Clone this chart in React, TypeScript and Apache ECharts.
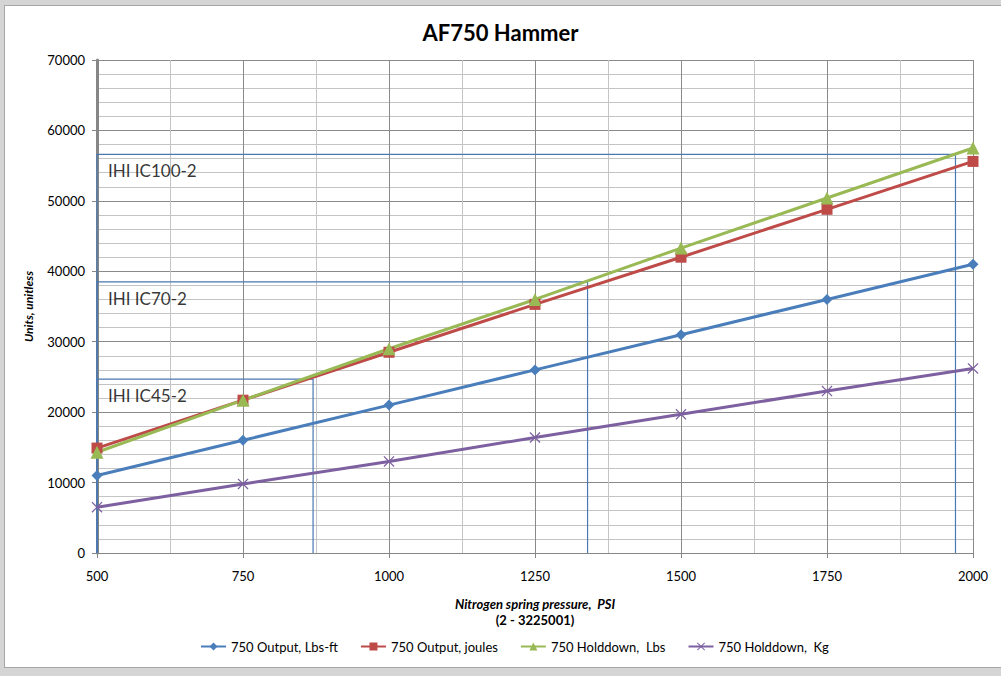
import React, { useEffect, useRef } from "react";
import * as echarts from "echarts";

const pressure = [500, 750, 1000, 1250, 1500, 1750, 2000];
const outputLbsFt = [11000, 16000, 21000, 26000, 31000, 36000, 41000];
const outputJoules = [14900, 21700, 28500, 35300, 42000, 48800, 55600];
const holddownLbs = [14300, 21700, 29000, 36000, 43300, 50400, 57500];
const holddownKg = [6500, 9800, 13000, 16400, 19700, 23000, 26200];

const seriesNames = [
  "750 Output, Lbs-ft",
  "750 Output, joules",
  "750 Holddown,  Lbs",
  "750 Holddown,  Kg",
];

const boxNames = ["IHI IC100-2", "IHI IC70-2", "IHI IC45-2"];
const boxPressure = [1970, 1340, 870];
const boxUnits = [56600, 38500, 24700];

const FONT = "Lato, 'Open Sans', sans-serif";
const XSYM =
  "path://M0,0.8 L0.8,0 L5,4.2 L9.2,0 L10,0.8 L5.8,5 L10,9.2 L9.2,10 L5,5.8 L0.8,10 L0,9.2 L4.2,5 Z";

export default function App() {
  const ref = useRef<HTMLDivElement>(null);

  useEffect(() => {
    if (!ref.current) return;
    const chart = echarts.init(ref.current, null, { renderer: "svg" });

    const mk = (name: string, data: number[], color: string, symbol: string, size: number) => ({
      name,
      type: "line",
      data: pressure.map((p, i) => [p, data[i]]),
      symbol,
      symbolSize: size,
      showSymbol: true,
      lineStyle: { color, width: 3 },
      itemStyle: { color },
      z: 5,
    });

    const boxSeries = boxNames.map((n, i) => ({
      name: "box" + i,
      type: "line",
      data: [
        [pressure[0], 0],
        [pressure[0], boxUnits[i]],
        [boxPressure[i], boxUnits[i]],
        [boxPressure[i], 0],
      ],
      showSymbol: false,
      symbol: "none",
      silent: true,
      lineStyle: { color: "#4A78B2", width: 1.2 },
      z: 3,
    }));

    const labelSeries = {
      name: "boxLabels",
      type: "scatter",
      data: boxNames.map((n, i) => ({ value: [pressure[0], boxUnits[i]], name: n })),
      symbolSize: 0,
      silent: true,
      label: {
        show: true,
        formatter: (p: any) => p.name,
        position: [11, 8],
        fontFamily: FONT,
        fontSize: 17,
        color: "#000",
      },
      z: 6,
    };

    const plain = (v: number) => String(v);

    chart.setOption({
      animation: false,
      backgroundColor: "transparent",
      title: {
        text: "AF750 Hammer",
        left: "center",
        top: 16,
        textStyle: { fontFamily: FONT, fontSize: 22, fontWeight: "bold", color: "#000" },
      },
      grid: { left: 97, right: 28, top: 60, bottom: 123 },
      legend: {
        data: seriesNames,
        bottom: 18,
        left: 195,
        itemWidth: 25,
        itemHeight: 10,
        itemGap: 22,
        textStyle: { fontFamily: FONT, fontSize: 13, color: "#000" },
      },
      xAxis: {
        type: "value",
        min: 500,
        max: 2000,
        interval: 250,
        name: "{a|Nitrogen spring pressure,  PSI}\n{b|(2 - 3225001)}",
        nameLocation: "middle",
        nameGap: 43,
        nameTextStyle: {
          rich: {
            a: { fontFamily: FONT, fontSize: 13, fontStyle: "italic", fontWeight: "bold", color: "#000", lineHeight: 16 },
            b: { fontFamily: FONT, fontSize: 13, fontWeight: "bold", color: "#000", lineHeight: 16 },
          },
        },
        axisLine: { show: true, lineStyle: { color: "#868686", width: 1 } },
        axisTick: { show: true, length: 5, lineStyle: { color: "#868686" } },
        axisLabel: { fontFamily: FONT, fontSize: 13, color: "#000", margin: 16, formatter: plain },
        splitLine: { show: true, lineStyle: { color: "#8a8a8a", width: 1 } },
        minorTick: { show: false, splitNumber: 2 },
        minorSplitLine: { show: true, lineStyle: { color: "#c4c4c4", width: 1 } },
      },
      yAxis: {
        type: "value",
        min: 0,
        max: 70000,
        interval: 10000,
        name: "Units, unitless",
        nameLocation: "middle",
        nameGap: 63,
        nameRotate: 90,
        nameTextStyle: { fontFamily: FONT, fontSize: 12, fontStyle: "italic", fontWeight: "bold", color: "#000" },
        axisLine: { show: true, lineStyle: { color: "#868686", width: 3 } },
        axisTick: { show: true, length: 5, lineStyle: { color: "#868686" } },
        axisLabel: { fontFamily: FONT, fontSize: 13, color: "#000", margin: 12, formatter: plain },
        splitLine: { show: true, lineStyle: { color: "#8a8a8a", width: 1 } },
        minorTick: { show: false, splitNumber: 5 },
        minorSplitLine: { show: true, lineStyle: { color: "#c4c4c4", width: 1 } },
      },
      series: [
        ...boxSeries,
        mk(seriesNames[0], outputLbsFt, "#4A7EBB", "diamond", 11),
        mk(seriesNames[1], outputJoules, "#BE4B48", "rect", 11),
        mk(seriesNames[2], holddownLbs, "#98B954", "triangle", 13),
        mk(seriesNames[3], holddownKg, "#7D60A0", XSYM, 11),
        labelSeries,
      ],
    });

    return () => chart.dispose();
  }, []);

  return (
    <div style={{ position: "fixed", left: 0, top: 0, width: 1001, height: 676, background: "#d5d5d5" }}>
      <div
        style={{
          position: "absolute",
          left: 4,
          top: 5,
          right: 0,
          bottom: 8,
          background: "#ffffff",
          border: "1px solid #a6a6a6",
          borderRight: "none",
        }}
      />
      <div ref={ref} style={{ position: "absolute", left: 0, top: 0, width: 1001, height: 676 }} />
    </div>
  );
}
